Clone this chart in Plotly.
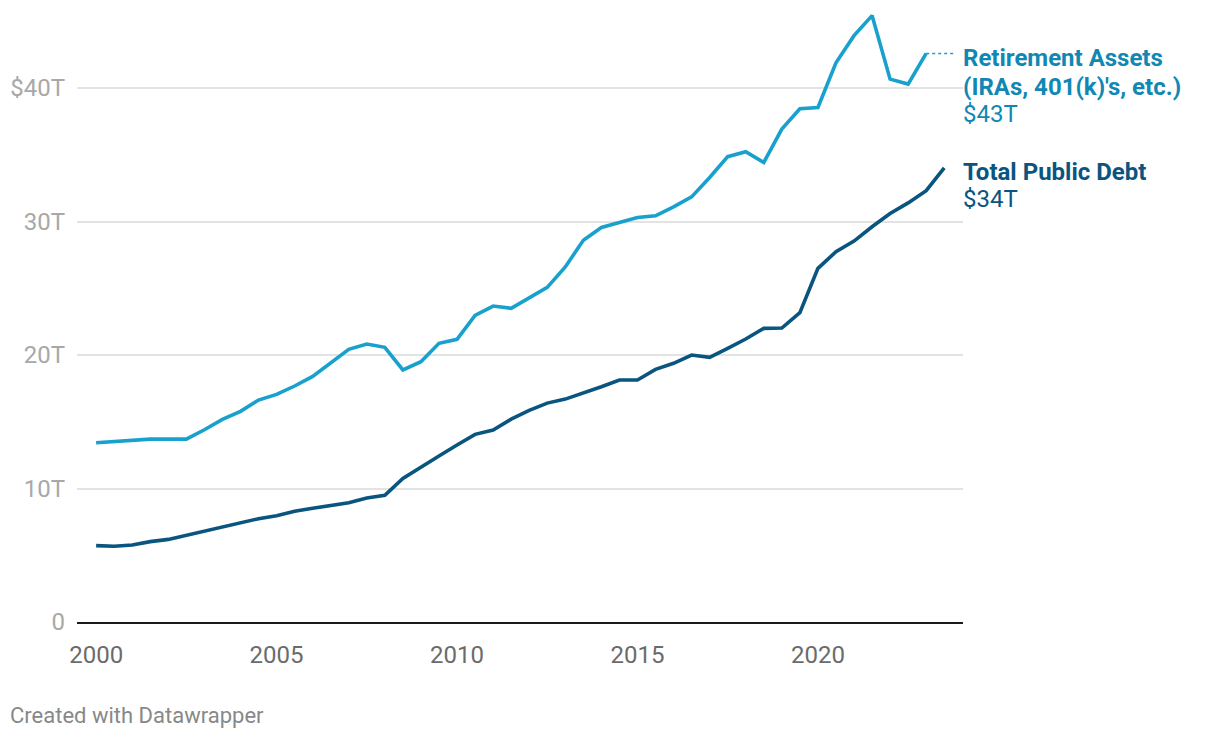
import plotly.graph_objects as go

# Half-yearly observations, trillions of dollars
ret_years = [2000 + 0.5 * i for i in range(47)]   # 2000 .. 2023
retirement = [13.43, 13.5, 13.58, 13.7, 13.7, 13.7, 14.4, 15.18, 15.78, 16.63,
              17.05, 17.68, 18.4, 19.42, 20.43, 20.82, 20.58, 18.88, 19.5, 20.88,
              21.18, 22.97, 23.67, 23.5, 24.3, 25.07, 26.6, 28.6, 29.56, 29.9,
              30.3, 30.43, 31.1, 31.85, 33.3, 34.86, 35.23, 34.43, 36.93, 38.45,
              38.55, 41.9, 43.93, 45.43, 40.67, 40.3, 42.6]

debt_years = [2000 + 0.5 * i for i in range(48)]  # 2000 .. 2023.5
debt = [5.72, 5.67, 5.77, 6.02, 6.19, 6.49, 6.77, 7.12, 7.42, 7.74,
        7.96, 8.29, 8.52, 8.76, 8.94, 9.29, 9.49, 10.76, 11.63, 12.43,
        13.26, 14.06, 14.38, 15.2, 15.85, 16.4, 16.7, 17.13, 17.63, 18.13,
        18.13, 18.93, 19.38, 20.0, 19.83, 20.5, 21.2, 22.0, 22.02, 23.17,
        26.49, 27.74, 28.54, 29.61, 30.6, 31.4, 32.31, 34.03]

y_tickvals = [0, 10, 20, 30, 40]
y_ticktext = ["0", "10T", "20T", "30T", "$40T"]
x_tickvals = [2000, 2005, 2010, 2015, 2020]

RET_LINE = "#18a1cd"
RET_TEXT = "#1188b3"
DEBT_LINE = "#09557f"
DEBT_TEXT = "#0b5480"
FONT = "Roboto"

# page body has an 8px default margin; plot area in screen pixels:
PL, PR, PT, PB = 77, 963, 8, 622
OFF = 8
W, H = 1220 - OFF, 738 - OFF

fig = go.Figure()
fig.add_trace(go.Scatter(x=ret_years, y=retirement, mode="lines",
                         line=dict(color=RET_LINE, width=3.6), hoverinfo="skip",
                         cliponaxis=False))
fig.add_trace(go.Scatter(x=debt_years, y=debt, mode="lines",
                         line=dict(color=DEBT_LINE, width=3.6), hoverinfo="skip",
                         cliponaxis=False))

# dotted connector from last retirement point to label
fig.add_shape(type="line", xref="x", yref="y",
              x0=ret_years[-1], x1=ret_years[-1] + 0.78,
              y0=retirement[-1], y1=retirement[-1],
              line=dict(color=RET_LINE, width=1.5, dash="dot"))

def lab(text, ypx, color, bold=False):
    fig.add_annotation(xref="paper", yref="paper", x=1.0, xshift=-2,
                       y=(PB - ypx) / (PB - PT), xanchor="left", yanchor="middle",
                       text=f"<b>{text}</b>" if bold else text, showarrow=False,
                       font=dict(family=FONT, size=24, color=color))

lab("Retirement Assets", 58, RET_TEXT, True)
lab("(IRAs, 401(k)'s, etc.)", 87, RET_TEXT, True)
lab(f"${retirement[-1]:.0f}T", 114, RET_TEXT)
lab("Total Public Debt", 172, DEBT_TEXT, True)
lab(f"${debt[-1]:.0f}T", 199, DEBT_TEXT)

fig.add_annotation(xref="paper", yref="paper", x=(8 - PL) / (PR - PL),
                   y=(PB - 715) / (PB - PT),
                   xanchor="left", yanchor="middle", showarrow=False,
                   text="Created with Datawrapper",
                   font=dict(family=FONT, size=22, color="#888888"))

fig.update_layout(
    width=W, height=H,
    margin=dict(l=PL - OFF, r=1220 - PR, t=PT - OFF, b=738 - PB, pad=0),
    paper_bgcolor="white", plot_bgcolor="white",
    showlegend=False,
    font=dict(family=FONT),
    xaxis=dict(range=[1999.47, 2024.02], tickvals=x_tickvals,
               showgrid=False, zeroline=False,
               showline=True, linecolor="#1a1a1a", linewidth=2,
               ticks="", ticklabelstandoff=10,
               tickfont=dict(family=FONT, size=24, color="#6b6b6b")),
    yaxis=dict(range=[0, 46], tickvals=y_tickvals, ticktext=y_ticktext,
               showgrid=True, gridcolor="#e3e3e3", gridwidth=1.5,
               zeroline=False, showline=False, ticks="",
               ticklabelstandoff=11,
               tickfont=dict(family=FONT, size=24, color="#a8a8a8")),
)

fig.write_html("out.html")
